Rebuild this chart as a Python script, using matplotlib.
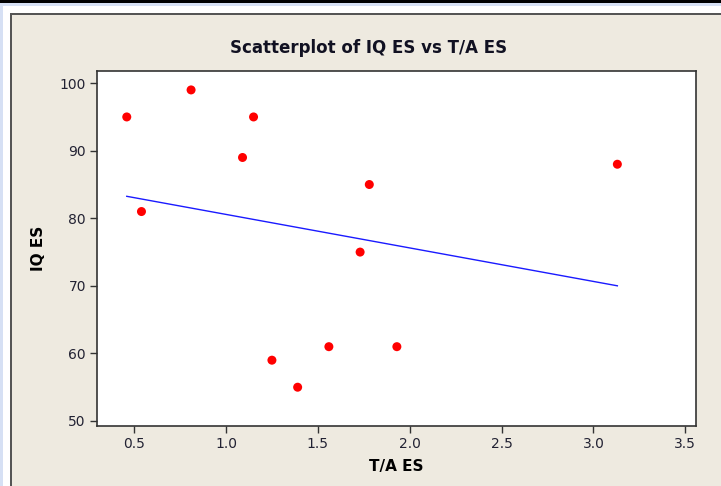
import numpy as np
import matplotlib
matplotlib.use("Agg")
import matplotlib.pyplot as plt
from matplotlib.patches import Rectangle

# values
ta_es = [0.46, 0.54, 0.81, 1.09, 1.15, 1.25, 1.39, 1.56, 1.73, 1.78, 1.93, 3.13]
iq_es = [95, 81, 99, 89, 95, 59, 55, 61, 75, 85, 61, 88]
x_ticks = [0.5, 1.0, 1.5, 2.0, 2.5, 3.0, 3.5]
y_ticks = [50, 60, 70, 80, 90, 100]

W, H = 721, 486
fig = plt.figure(figsize=(W / 100, H / 100), dpi=100)
fig.patch.set_facecolor("white")


def box(x0, y0, x1, y1, color):
    # rectangle given in pixels from the top-left corner
    fig.patches.append(Rectangle((x0 / W, 1 - y1 / H), (x1 - x0) / W, (y1 - y0) / H,
                                 transform=fig.transFigure, facecolor=color,
                                 edgecolor="none", zorder=-10))


box(0, 0, 3, H, "#d6e0f4")
box(0, 3, W, 6, "#d6e0f4")
box(0, 0, W, 3, "black")
box(10, 13, W, 15, "#555555")
box(10, 13, 12, H, "#555555")
box(12, 15, W, H, "#eeeae0")

ax = fig.add_axes([97 / W, 1 - 426 / H, (696 - 97) / W, (426 - 71) / H])
ax.set_zorder(5)
ax.set_facecolor("white")

ax.scatter(ta_es, iq_es, s=42, color="red", edgecolors="none", zorder=3)

# fitted regression line across the data range
slope, icept = np.polyfit(ta_es, iq_es, 1)
fx = np.array([min(ta_es), max(ta_es)])
ax.plot(fx, icept + slope * fx, color="#1a1aff", lw=1.0, zorder=2)

ax.set_xlim(0.298, 3.558)
ax.set_ylim(49.26, 101.8)
ax.set_xticks(x_ticks)
ax.set_yticks(y_ticks)
ax.set_xticklabels([f"{v:.1f}" for v in x_ticks])
ax.tick_params(direction="out", length=5, width=1, color="#333333",
               labelsize=10, labelcolor="#222233", pad=3)
for s in ax.spines.values():
    s.set_color("#333333")
    s.set_linewidth(1.2)

ax.set_xlabel("T/A ES", fontsize=11, fontweight="bold", labelpad=6)
ax.set_ylabel("IQ ES", fontsize=11, fontweight="bold", labelpad=10)
fig.text(369 / W, 1 - 48 / H, "Scatterplot of IQ ES vs T/A ES", ha="center",
         va="center", fontsize=12, fontweight="bold", color="#111122")

fig.savefig("out.png", dpi=100)
